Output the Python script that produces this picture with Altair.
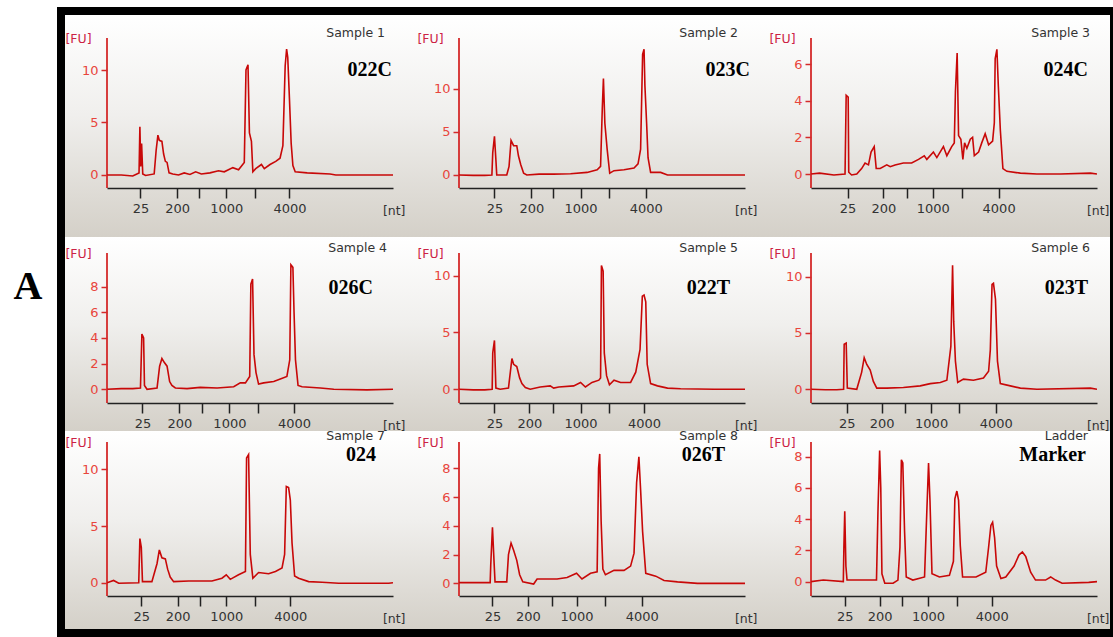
import altair as alt
import pandas as pd

# ---------------- data ----------------
SAMPLE_TITLES = ["Sample 1", "Sample 2", "Sample 3", "Sample 4", "Sample 5",
                 "Sample 6", "Sample 7", "Sample 8", "Ladder"]
SAMPLE_NAMES = ["022C", "023C", "024C", "026C", "022T", "023T", "024", "026T", "Marker"]
NT_LABELS = ["25", "200", "", "1000", "", "4000"]
NT_TICK_POS = [
    [11.7, 24.5, 32.3, 41.7, 51.6, 63.8],
    [12.4, 25.3, 33.0, 42.5, 52.4, 65.3],
    [12.8, 25.3, 33.4, 42.6, 52.8, 65.6],
    [12.4, 25.3, 33.3, 42.8, 52.7, 65.4],
    [12.4, 24.6, 32.9, 42.5, 52.4, 64.7],
    [12.5, 24.7, 32.9, 42.0, 51.8, 64.6],
    [12.0, 24.7, 32.4, 41.7, 51.6, 64.1],
    [11.7, 24.1, 32.5, 41.1, 51.0, 63.9],
    [11.8, 24.0, 31.9, 40.9, 51.0, 63.2],
]
FU_TICKS = [[0, 5, 10], [0, 5, 10], [0, 2, 4, 6], [0, 2, 4, 6, 8], [0, 5, 10],
            [0, 5, 10], [0, 5, 10], [0, 2, 4, 6, 8], [0, 2, 4, 6, 8]]
FU_DOMAIN = [[-1.24, 13.05], [-1.51, 15.9], [-0.76, 7.42], [-1.07, 12.65], [-1.21, 14.29],
             [-1.22, 14.4], [-1.17, 12.42], [-0.88, 9.83], [-0.92, 8.94]]
FU_AXIS_TOP = [13.05, 15.9, 7.42, 10.62, 12.0, 12.09, 12.42, 9.83, 8.94]

S1_POS = [0, 5, 9, 11.2, 11.5, 11.8, 12.1, 12.5, 13.5, 16.5, 17.2, 17.8, 18.3, 19.2, 19.8, 20.4, 21.0, 21.7, 23, 25,
          27, 29, 31, 33, 36, 39, 41, 44, 46, 48.0, 48.6, 49.3, 49.8, 50.5, 51.0, 52, 54, 55, 57, 59,
          60.5, 61.5, 62.3, 62.8, 63.2, 63.8, 64.4, 65.0, 65.8, 70, 78, 80, 92, 100]
S1_FU = [0.0, 0.0, -0.1, 0.2, 4.6, 0.8, 3.0, 0.1, -0.05, 0.1, 2.4, 3.8, 3.3, 3.2, 2.0, 1.3, 1.2, 0.2, 0.1, 0.0,
         0.2, 0.05, 0.3, 0.1, 0.2, 0.4, 0.3, 0.7, 0.5, 1.2, 10.0, 10.5, 4.0, 3.2, 0.3, 0.6, 1.0, 0.6, 1.0, 1.3,
         1.6, 2.8, 10.4, 12.0, 11.2, 7.2, 3.0, 0.9, 0.3, 0.2, 0.1, 0.0, 0.0, 0.0]

S2_POS = [0, 5, 9, 11.5, 11.8, 12.4, 12.9, 13.2, 16.7, 17.5, 18.2, 19.1, 20.2, 20.8, 21.6, 22.6, 23.7, 28, 33, 39,
          44.8, 48.3, 49.5, 50.1, 50.5, 51.0, 51.8, 52.7, 54.2, 57.7, 61.2, 62.6, 63.5, 64.2, 64.7, 65.0, 65.6,
          66.1, 67.0, 70.5, 72.9, 85, 100]
S2_FU = [0.0, -0.05, -0.05, 0.0, 2.6, 4.5, 1.75, 0.0, 0.0, 1.0, 4.0, 3.4, 3.4, 2.2, 1.2, 0.2, 0.0, 0.1, 0.1, 0.15,
         0.3, 0.6, 1.0, 7.7, 11.2, 6.0, 3.0, 0.2, 0.5, 0.6, 0.8, 1.3, 3.0, 14.0, 14.6, 10.4, 6.0,
         2.0, 0.3, 0.3, 0.0, 0.0, 0.0]

S3_POS = [0, 3, 8, 11.9, 12.3, 13.0, 13.2, 14.2, 16.0, 17.7, 18.9, 20.1, 21.0, 22.1, 22.8, 24.2, 26.5, 27.7, 29.4,
          32.3, 35.2, 37.6, 39.6, 40.5, 42.8, 44.0, 46.3, 47.5, 49.2, 50.1, 50.5, 51.1, 51.6, 52.4, 53.1, 53.7,
          54.5, 55.7, 56.5, 57.1, 58.6, 59.7, 60.9, 62.1, 63.5, 64.1, 64.4, 65.0, 65.5, 66.2, 67.1, 68.5, 73.2,
          79.0, 87.2, 97.7, 100]
S3_FU = [0.0, 0.05, -0.05, 0.0, 4.3, 4.2, 0.1, -0.05, 0.0, 0.3, 0.6, 0.5, 1.2, 1.5, 0.3, 0.3, 0.5, 0.4, 0.5,
         0.6, 0.6, 0.8, 1.0, 0.8, 1.2, 0.9, 1.5, 1.0, 1.5, 1.7, 4.5, 6.6, 2.1, 1.9, 0.8, 1.7,
         1.4, 1.9, 2.0, 1.0, 1.2, 1.7, 2.2, 1.6, 1.8, 2.8, 6.3, 6.8, 4.8, 2.4, 0.3, 0.15, 0.05,
         0.0, 0.0, 0.05, 0.0]

S4_POS = [0, 5, 9, 11.7, 12.2, 12.8, 13.1, 14.0, 17.5, 18.4, 19.2, 20.0, 21.0, 21.9, 22.7, 23.9, 28.0, 32.6, 38.5,
          44.3, 46.6, 48.4, 49.9, 50.3, 50.9, 51.4, 52.1, 53.0, 54.8, 58.3, 60.6, 62.9, 63.9, 64.3, 65.0, 65.4,
          65.9, 66.8, 68.2, 74.6, 79.3, 90.9, 100]
S4_FU = [0.0, 0.05, 0.05, 0.1, 4.3, 4.0, 0.3, 0.0, 0.1, 1.8, 2.4, 2.1, 1.8, 0.6, 0.3, 0.1, 0.05, 0.15, 0.1,
         0.2, 0.5, 0.5, 1.0, 8.2, 8.6, 2.7, 1.3, 0.4, 0.5, 0.6, 0.8, 1.0, 2.3, 9.7, 9.5, 6.0,
         2.3, 0.3, 0.2, 0.1, 0.0, -0.05, 0.0]

S5_POS = [0, 5, 9, 11.6, 11.8, 12.4, 12.9, 14.4, 17.3, 18.5, 19.1, 20.2, 21.2, 22.0, 23.2, 24.9, 28.4, 31.9, 33.1,
          34.9, 40.1, 42.5, 44.2, 46.5, 48.9, 49.5, 49.8, 50.4, 50.8, 51.6, 52.6, 54.2, 56.5, 60.0, 61.8, 63.3,
          64.1, 64.7, 65.3, 65.8, 67.0, 69.4, 72.9, 77.5, 89.2, 100]
S5_FU = [0.0, -0.05, -0.05, 0.0, 3.2, 4.3, 0.1, 0.0, 0.1, 2.7, 2.2, 2.0, 1.0, 0.5, 0.15, 0.0, 0.2, 0.3, 0.1,
         0.2, 0.3, 0.6, 0.2, 0.6, 0.8, 1.0, 10.9, 10.4, 3.2, 1.2, 0.4, 0.8, 0.6, 0.6, 1.5, 3.5,
         8.2, 8.3, 7.7, 2.2, 0.5, 0.3, 0.1, 0.05, 0.0, 0.0]

S6_POS = [0, 5, 9, 11.4, 11.6, 12.3, 12.7, 16.0, 17.7, 18.6, 19.5, 20.7, 21.8, 23.0, 26.5, 32.3, 38.2, 41.7, 45.2,
          47.5, 48.9, 49.5, 49.9, 50.5, 51.3, 53.3, 56.8, 60.3, 62.1, 62.7, 63.3, 63.8, 64.5, 65.2, 66.2, 69.7,
          73.2, 79.0, 97.7, 100]
S6_FU = [0.0, -0.05, -0.05, 0.0, 4.0, 4.1, 0.1, 0.0, 1.5, 2.8, 2.2, 1.7, 0.7, 0.1, 0.1, 0.15, 0.3, 0.5, 0.6,
         0.8, 3.8, 11.0, 6.0, 2.5, 0.6, 0.9, 0.8, 1.0, 1.6, 3.5, 9.3, 9.4, 8.0, 2.5, 0.5, 0.3,
         0.1, 0.0, 0.1, 0.0]

S7_POS = [0, 2.3, 4.1, 11.1, 11.5, 12.0, 12.4, 15.7, 17.5, 18.3, 19.2, 20.4, 21.2, 22.1, 23.3, 28.6, 36.7, 40.2,
          41.7, 43.1, 46.0, 48.4, 48.8, 49.5, 50.1, 51.0, 53.0, 56.5, 58.9, 61.2, 62.1, 62.7, 63.5, 64.1, 64.7,
          65.6, 67.0, 70.5, 75.2, 81.0, 98.5, 100]
S7_FU = [0.0, 0.2, -0.05, 0.0, 3.9, 3.1, 0.1, 0.1, 1.7, 2.9, 2.2, 2.1, 1.2, 0.5, 0.1, 0.15, 0.15, 0.4,
         0.7, 0.3, 0.7, 1.0, 11.0, 11.3, 2.5, 0.4, 0.9, 0.8, 1.0, 1.3, 2.5, 8.5, 8.4, 7.3, 3.5,
         0.6, 0.4, 0.1, 0.05, -0.05, -0.05, 0.0]

S8_POS = [0, 5, 10.9, 11.1, 11.7, 12.3, 12.6, 16.7, 17.3, 18.2, 19.1, 20.2, 21.2, 22.3, 26.1, 27.3, 34.3, 37.8,
          41.1, 43.0, 46.0, 48.3, 48.8, 49.2, 49.7, 50.3, 51.2, 54.2, 57.7, 60.0, 61.2, 62.1, 62.9, 63.5, 64.2,
          65.3, 68.8, 71.7, 76.4, 83.4, 100]
S8_FU = [0.05, 0.05, 0.05, 1.3, 3.9, 1.3, 0.1, 0.1, 2.0, 2.8, 2.3, 1.6, 0.6, 0.1, -0.05, 0.3, 0.3, 0.4,
         0.7, 0.3, 0.7, 0.8, 8.0, 9.0, 4.3, 1.0, 0.6, 0.9, 0.9, 1.2, 2.1, 7.0, 8.8, 6.5, 3.6,
         0.7, 0.5, 0.2, 0.1, 0.0, 0.0]

LADDER_POS = [0, 4.3, 11.3, 11.5, 11.8, 12.2, 12.6, 14.7, 22.9, 23.4, 24.0, 24.4, 24.8, 25.8, 28.7, 30.4, 31.1,
              31.6, 32.1, 32.7, 33.3, 35.6, 39.7, 40.5, 41.1, 41.6, 42.3, 44.9, 48.4, 49.8, 50.3, 51.0, 51.6,
              52.2, 53.0, 57.7, 61.1, 62.1, 62.9, 63.5, 64.2, 64.9, 66.4, 68.1, 71.0, 72.7, 73.9, 75.1, 76.8,
              78.5, 82.0, 83.8, 85.5, 87.8, 97.1, 100]
LADDER_FU = [0.0, 0.1, 0.0, 2.2, 4.5, 1.0, 0.1, 0.1, 0.1, 4.4, 8.4, 6.0, 0.5, -0.1, -0.1, 0.1, 2.2,
             7.8, 7.6, 3.3, 0.3, 0.1, 0.3, 4.5, 7.6, 5.2, 0.5, 0.3, 0.4, 1.3, 5.3, 5.8, 5.2,
             2.3, 0.3, 0.3, 0.6, 2.2, 3.6, 3.8, 2.8, 1.0, 0.2, 0.3, 1.0, 1.7, 1.9, 1.6, 0.6,
             0.1, 0.1, 0.3, 0.1, -0.1, -0.05, 0.0]

TRACES = [(S1_POS, S1_FU), (S2_POS, S2_FU), (S3_POS, S3_FU), (S4_POS, S4_FU), (S5_POS, S5_FU),
          (S6_POS, S6_FU), (S7_POS, S7_FU), (S8_POS, S8_FU), (LADDER_POS, LADDER_FU)]

# ---------------- layout / style (pixels) ----------------
PLOT_W = 286
ROW_H = [150, 176, 154]
ROW_AXIS_TOP_PX = [0, 26, 0]
CELL_X = [(-42, 301), (-51, 303), (-49, 299)]
CELL_Y = [(-23, 199), (10, 204), (-11, 187)]
TITLE_X = [278, 279, 279, 280, 279, 279, 278, 279, 277]
TITLE_Y = [-5, -5, -5, 21, 21, 21, -6, -6, -6]
NAME_X = [285, 291, 277, 266, 271, 277, 269, 266, 275]
NAME_Y = [32, 32, 32, 61, 61, 61, 13, 13, 13]

TRACE_COLOR = "#c80808"
AXIS_RED = "#d42a2a"
LABEL_RED = "#e8453c"
FONT = "DejaVu Sans"
SERIF = "Liberation Serif"

BG = alt.LinearGradient(
    gradient="linear",
    stops=[alt.GradientStop(color="#ffffff", offset=0),
           alt.GradientStop(color="#f0efed", offset=0.45),
           alt.GradientStop(color="#d4d0c8", offset=1)],
    x1=0, x2=0, y1=0, y2=1,
)

ONE = pd.DataFrame({"k": [0]})


def label_expr(ticks):
    mids = [(a + b) / 2 for a, b in zip(ticks[:-1], ticks[1:])]
    expr = f"'{NT_LABELS[-1]}'"
    for m, lab in reversed(list(zip(mids, NT_LABELS[:-1]))):
        expr = f"datum.value < {m:.3f} ? '{lab}' : ({expr})"
    return expr


def panel(i):
    r, c = divmod(i, 3)
    pos, fu = TRACES[i]
    df = pd.DataFrame({"pos": pos, "fu": fu})
    lo, hi = FU_DOMAIN[i]
    yscale = alt.Scale(domain=[lo, hi], nice=False, zero=False)
    xscale = alt.Scale(domain=[0, 100], nice=False, zero=False)

    yaxis = alt.Axis(
        values=FU_TICKS[i], domain=False, grid=False, zindex=1,
        tickColor=AXIS_RED, tickWidth=1.5, tickSize=6,
        labelColor=LABEL_RED, labelFont=FONT, labelFontSize=13, labelPadding=3,
        title="[FU]", titleAngle=0, titleX=-29, titleY=ROW_AXIS_TOP_PX[r],
        titleAlign="center", titleBaseline="middle", titleColor="#cc2244",
        titleFont=FONT, titleFontSize=12.5, titleFontWeight="normal",
    )
    xaxis = alt.Axis(
        values=NT_TICK_POS[i], labelExpr=label_expr(NT_TICK_POS[i]), grid=False, zindex=1,
        domainColor="#222222", domainWidth=1.6, tickColor="#222222", tickWidth=1.5, tickSize=10,
        labelColor="#333333", labelFont=FONT, labelFontSize=13, labelPadding=4, labelOverlap=False,
        title="[nt]", titleX=PLOT_W + 12, titleY=22, titleAlign="right", titleBaseline="middle",
        titleColor="#333333", titleFont=FONT, titleFontSize=12.5, titleFontWeight="normal",
    )

    layers = []
    if i == 0:
        layers.append(alt.Chart(ONE).mark_rect(fill="white").encode(
            x=alt.value(-107), x2=alt.value(1006), y=alt.value(-38), y2=alt.value(599)))
        layers.append(alt.Chart(ONE).mark_rect(fill="black").encode(
            x=alt.value(-50), x2=alt.value(1006), y=alt.value(-31), y2=alt.value(599)))
        layers.append(alt.Chart(ONE).mark_text(
            text="A", font=SERIF, fontSize=40, fontWeight="bold", color="black",
            align="center", baseline="middle").encode(x=alt.value(-79), y=alt.value(249)))

    cx0, cx1 = CELL_X[c]
    cy0, cy1 = CELL_Y[r]
    layers.append(alt.Chart(ONE).mark_rect(fill=BG).encode(
        x=alt.value(cx0), x2=alt.value(cx1), y=alt.value(cy0), y2=alt.value(cy1)))

    axis_df = pd.DataFrame({"fu": [lo], "fu_top": [FU_AXIS_TOP[i]]})
    layers.append(alt.Chart(axis_df).mark_rule(color=AXIS_RED, strokeWidth=1.8).encode(
        x=alt.value(0),
        y=alt.Y("fu:Q", scale=yscale, axis=yaxis),
        y2="fu_top:Q"))

    layers.append(alt.Chart(df).mark_line(color=TRACE_COLOR, strokeWidth=1.6, clip=True,
                                          strokeJoin="miter").encode(
        x=alt.X("pos:Q", scale=xscale, axis=xaxis),
        y=alt.Y("fu:Q", scale=yscale, axis=yaxis)))

    layers.append(alt.Chart(ONE).mark_text(
        text=SAMPLE_TITLES[i], font=FONT, fontSize=12.5, color="#333333",
        align="right", baseline="middle").encode(x=alt.value(TITLE_X[i]), y=alt.value(TITLE_Y[i])))
    layers.append(alt.Chart(ONE).mark_text(
        text=SAMPLE_NAMES[i], font=SERIF, fontSize=20, fontWeight="bold", color="black",
        align="right", baseline="middle").encode(x=alt.value(NAME_X[i]), y=alt.value(NAME_Y[i])))

    return alt.layer(*layers).properties(width=PLOT_W, height=ROW_H[r])


chart = alt.concat(
    *[panel(i) for i in range(9)],
    columns=3,
    spacing=alt.RowColnumber(row=39, column=66),
    bounds="flush",
    align="each",
).properties(padding=0, background="white").configure_view(stroke=None)

chart.save("out.html", embed_options={"renderer": "svg", "actions": False})
